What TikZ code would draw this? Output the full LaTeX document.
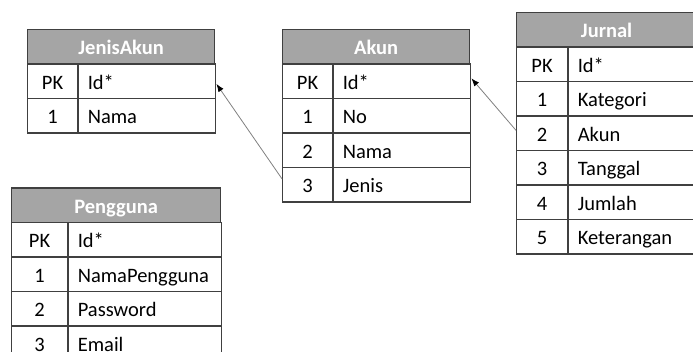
\documentclass[tikz,border=0pt]{standalone}
\usepackage{fontspec}
\setmainfont{Carlito}
\usepackage{tikz}
\usetikzlibrary{arrows.meta}
\definecolor{headgray}{HTML}{A5A5A5}
\definecolor{linegray}{HTML}{404040}
\newcommand{\tabfont}{\fontsize{20.5}{24}\selectfont}
\tikzset{
  headcell/.style={draw=linegray, line width=1.2pt, fill=headgray, text=white, font=\tabfont\bfseries,
    minimum height=34.5pt, inner sep=0pt, text height=17.5pt, text depth=2pt, anchor=north west},
  keycell/.style={draw=linegray, line width=1.2pt, minimum height=34.5pt, inner sep=0pt,
    text height=17.5pt, text depth=2pt, anchor=north west},
  fieldcell/.style={draw=linegray, line width=1.2pt, minimum height=34.5pt, inner xsep=9pt, inner ysep=0pt,
    text height=17.5pt, text depth=2pt, align=left, anchor=north west},
  fkline/.style={draw=black!50, line width=0.8pt, -{Latex[color=black, length=8pt, width=6pt]}}
}
\newcommand{\headrow}[5]{\node[headcell, minimum width=#4] (#1) at (#2,#3) {#5};}
\newcommand{\fieldrow}[7]{
  \node[keycell, minimum width=#4] (#1k) at (#2,#3) {#6};
  \node[fieldcell, text width=#5] (#1) at (#1k.north east) {#7};}
\begin{document}
\begin{tikzpicture}[x=1pt,y=-1pt,font=\tabfont]
        \clip (0,0) rectangle (693,352);
        % JenisAkun
        \headrow{jenisakun}{27}{29}{187pt}{JenisAkun}
        \fieldrow{jenisakun0}{27}{63.5}{50pt}{119pt}{PK}{Id*}
        \fieldrow{jenisakun1}{27}{98}{50pt}{119pt}{1}{Nama}
        % Akun
        \headrow{akun}{282}{29}{187pt}{Akun}
        \fieldrow{akun0}{282}{63.5}{50pt}{119pt}{PK}{Id*}
        \fieldrow{akun1}{282}{98}{50pt}{119pt}{1}{No}
        \fieldrow{akun2}{282}{132.5}{50pt}{119pt}{2}{Nama}
        \fieldrow{akun3}{282}{167}{50pt}{119pt}{3}{Jenis}
        % Jurnal
        \headrow{jurnal}{516}{12}{180pt}{Jurnal}
        \fieldrow{jurnal0}{516}{46.5}{51pt}{111pt}{PK}{Id*}
        \fieldrow{jurnal1}{516}{81}{51pt}{111pt}{1}{Kategori}
        \fieldrow{jurnal2}{516}{115.5}{51pt}{111pt}{2}{Akun}
        \fieldrow{jurnal3}{516}{150}{51pt}{111pt}{3}{Tanggal}
        \fieldrow{jurnal4}{516}{184.5}{51pt}{111pt}{4}{Jumlah}
        \fieldrow{jurnal5}{516}{219}{51pt}{111pt}{5}{Keterangan}
        % Pengguna
        \headrow{pengguna}{11}{187.5}{209pt}{Pengguna}
        \fieldrow{pengguna0}{11}{222}{56pt}{135pt}{PK}{Id*}
        \fieldrow{pengguna1}{11}{256.5}{56pt}{135pt}{1}{NamaPengguna}
        \fieldrow{pengguna2}{11}{291}{56pt}{135pt}{2}{Password}
        \fieldrow{pengguna3}{11}{325.5}{56pt}{135pt}{3}{Email}
        % relations
        \draw[fkline] ([yshift=6pt]akun3k.west) -- ([yshift=-2.5pt]jenisakun0.east);
        \draw[fkline] ([yshift=3pt]jurnal2k.west) -- ([yshift=3pt]akun0.east);
\end{tikzpicture}
\end{document}
